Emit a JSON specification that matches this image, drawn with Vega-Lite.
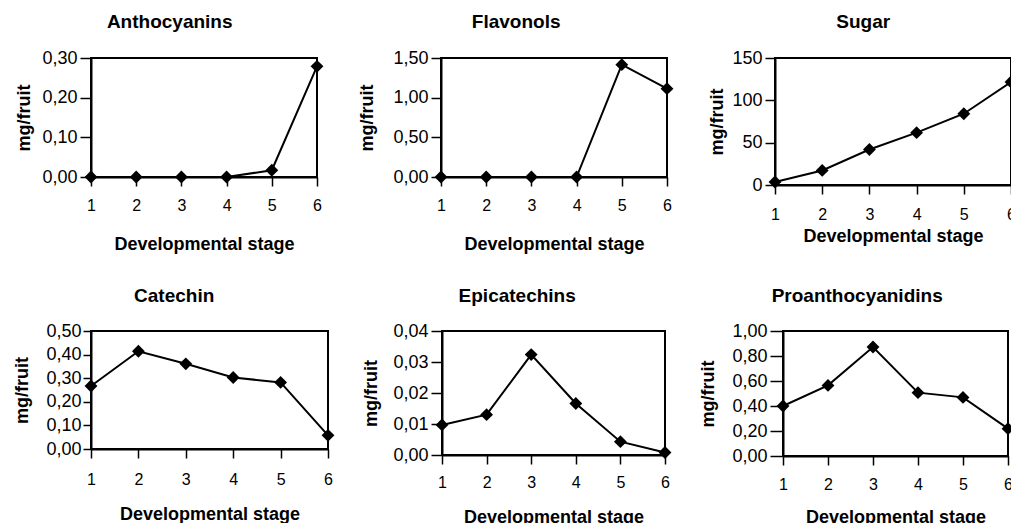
{
  "$schema": "https://vega.github.io/schema/vega-lite/v6.json",
  "padding": {"left": 12, "top": 12, "right": 0, "bottom": 0},
  "background": "white",
  "datasets": {
    "anthocyanins": [
      {"stage": 1, "value": 0}, {"stage": 2, "value": 0}, {"stage": 3, "value": 0},
      {"stage": 4, "value": 0}, {"stage": 5, "value": 0.017}, {"stage": 6, "value": 0.279}
    ],
    "flavonols": [
      {"stage": 1, "value": 0}, {"stage": 2, "value": 0}, {"stage": 3, "value": 0},
      {"stage": 4, "value": 0}, {"stage": 5, "value": 1.416}, {"stage": 6, "value": 1.113}
    ],
    "sugar": [
      {"stage": 1, "value": 3.5}, {"stage": 2, "value": 17.2}, {"stage": 3, "value": 41.9},
      {"stage": 4, "value": 61.8}, {"stage": 5, "value": 84.2}, {"stage": 6, "value": 121.7}
    ],
    "catechin": [
      {"stage": 1, "value": 0.267}, {"stage": 2, "value": 0.414}, {"stage": 3, "value": 0.361},
      {"stage": 4, "value": 0.303}, {"stage": 5, "value": 0.282}, {"stage": 6, "value": 0.058}
    ],
    "epicatechins": [
      {"stage": 1, "value": 0.0097}, {"stage": 2, "value": 0.013}, {"stage": 3, "value": 0.0324},
      {"stage": 4, "value": 0.0166}, {"stage": 5, "value": 0.0043}, {"stage": 6, "value": 0.0008}
    ],
    "proanthocyanidins": [
      {"stage": 1, "value": 0.40}, {"stage": 2, "value": 0.565}, {"stage": 3, "value": 0.872},
      {"stage": 4, "value": 0.507}, {"stage": 5, "value": 0.469}, {"stage": 6, "value": 0.219}
    ]
  },
  "vconcat": [
    {
      "spacing": 32,
      "hconcat": [
        {
          "title": {"text": "Anthocyanins", "offset": 17},
          "width": 226, "height": 119,
          "data": {"name": "anthocyanins"},
          "layer": [
            {"mark": {"type": "line", "color": "black", "strokeWidth": 2}},
            {"mark": {"type": "point", "shape": "diamond", "filled": true, "color": "black", "size": 165, "opacity": 1}}
          ],
          "encoding": {
            "x": {"field": "stage", "type": "quantitative", "scale": {"domain": [1, 6], "nice": false, "zero": false},
                  "axis": {"title": "Developmental stage", "values": [1, 2, 3, 4, 5, 6], "format": "d", "labelPadding": 11.5, "titlePadding": 22.2}},
            "y": {"field": "value", "type": "quantitative", "scale": {"domain": [0, 0.3], "nice": false},
                  "axis": {"title": "mg/fruit", "values": [0, 0.1, 0.2, 0.3], "labelExpr": "replace(format(datum.value, '.2f'), '.', ',')", "tickSize": 11, "labelPadding": 3, "titlePadding": 8}}
          }
        },
        {
          "title": {"text": "Flavonols", "offset": 17},
          "width": 226, "height": 119,
          "data": {"name": "flavonols"},
          "layer": [
            {"mark": {"type": "line", "color": "black", "strokeWidth": 2}},
            {"mark": {"type": "point", "shape": "diamond", "filled": true, "color": "black", "size": 165, "opacity": 1}}
          ],
          "encoding": {
            "x": {"field": "stage", "type": "quantitative", "scale": {"domain": [1, 6], "nice": false, "zero": false},
                  "axis": {"title": "Developmental stage", "values": [1, 2, 3, 4, 5, 6], "format": "d", "labelPadding": 11.5, "titlePadding": 22.2}},
            "y": {"field": "value", "type": "quantitative", "scale": {"domain": [0, 1.5], "nice": false},
                  "axis": {"title": "mg/fruit", "values": [0, 0.5, 1, 1.5], "labelExpr": "replace(format(datum.value, '.2f'), '.', ',')", "tickSize": 10, "labelPadding": 3, "titlePadding": 16}}
          }
        },
        {
          "title": {"text": "Sugar", "offset": 17},
          "width": 236, "height": 127,
          "data": {"name": "sugar"},
          "layer": [
            {"mark": {"type": "line", "color": "black", "strokeWidth": 2}},
            {"mark": {"type": "point", "shape": "diamond", "filled": true, "color": "black", "size": 165, "opacity": 1}}
          ],
          "encoding": {
            "x": {"field": "stage", "type": "quantitative", "scale": {"domain": [1, 6], "nice": false, "zero": false},
                  "axis": {"title": "Developmental stage", "values": [1, 2, 3, 4, 5, 6], "format": "d", "labelPadding": 12.5, "titlePadding": 4.9}},
            "y": {"field": "value", "type": "quantitative", "scale": {"domain": [0, 150], "nice": false},
                  "axis": {"title": "mg/fruit", "values": [0, 50, 100, 150], "format": "d", "tickSize": 10, "labelPadding": 3, "titlePadding": 5}}
          }
        }
      ]
    },
    {
      "spacing": 25,
      "hconcat": [
        {
          "title": {"text": "Catechin", "offset": 16},
          "width": 237, "height": 118,
          "data": {"name": "catechin"},
          "layer": [
            {"mark": {"type": "line", "color": "black", "strokeWidth": 2}},
            {"mark": {"type": "point", "shape": "diamond", "filled": true, "color": "black", "size": 165, "opacity": 1}}
          ],
          "encoding": {
            "x": {"field": "stage", "type": "quantitative", "scale": {"domain": [1, 6], "nice": false, "zero": false},
                  "axis": {"title": "Developmental stage", "values": [1, 2, 3, 4, 5, 6], "format": "d", "labelPadding": 13, "titlePadding": 18.3}},
            "y": {"field": "value", "type": "quantitative", "scale": {"domain": [0, 0.5], "nice": false},
                  "axis": {"title": "mg/fruit", "values": [0, 0.1, 0.2, 0.3, 0.4, 0.5], "labelExpr": "replace(format(datum.value, '.2f'), '.', ',')", "tickSize": 8, "labelPadding": 2, "titlePadding": 14}}
          }
        },
        {
          "title": {"text": "Epicatechins", "offset": 16},
          "width": 223, "height": 124,
          "data": {"name": "epicatechins"},
          "layer": [
            {"mark": {"type": "line", "color": "black", "strokeWidth": 2}},
            {"mark": {"type": "point", "shape": "diamond", "filled": true, "color": "black", "size": 165, "opacity": 1}}
          ],
          "encoding": {
            "x": {"field": "stage", "type": "quantitative", "scale": {"domain": [1, 6], "nice": false, "zero": false},
                  "axis": {"title": "Developmental stage", "values": [1, 2, 3, 4, 5, 6], "format": "d", "labelPadding": 10.8, "titlePadding": 17.2}},
            "y": {"field": "value", "type": "quantitative", "scale": {"domain": [0, 0.04], "nice": false},
                  "axis": {"title": "mg/fruit", "values": [0, 0.01, 0.02, 0.03, 0.04], "labelExpr": "replace(format(datum.value, '.2f'), '.', ',')", "tickSize": 11, "labelPadding": 3, "titlePadding": 12}}
          }
        },
        {
          "title": {"text": "Proanthocyanidins", "offset": 16},
          "width": 225, "height": 125,
          "data": {"name": "proanthocyanidins"},
          "layer": [
            {"mark": {"type": "line", "color": "black", "strokeWidth": 2}},
            {"mark": {"type": "point", "shape": "diamond", "filled": true, "color": "black", "size": 165, "opacity": 1}}
          ],
          "encoding": {
            "x": {"field": "stage", "type": "quantitative", "scale": {"domain": [1, 6], "nice": false, "zero": false},
                  "axis": {"title": "Developmental stage", "values": [1, 2, 3, 4, 5, 6], "format": "d", "labelPadding": 11.1, "titlePadding": 15.9}},
            "y": {"field": "value", "type": "quantitative", "scale": {"domain": [0, 1], "nice": false},
                  "axis": {"title": "mg/fruit", "values": [0, 0.2, 0.4, 0.6, 0.8, 1], "labelExpr": "replace(format(datum.value, '.2f'), '.', ',')", "tickSize": 13, "labelPadding": 3, "titlePadding": 14}}
          }
        }
      ]
    }
  ],
  "spacing": 31,
  "config": {
    "font": "Liberation Sans",
    "view": {"stroke": "black", "strokeWidth": 2},
    "axis": {
      "grid": false,
      "domainColor": "black", "domainWidth": 2,
      "tickColor": "black", "tickWidth": 1.5,
      "labelColor": "black", "labelFont": "Liberation Sans", "labelFontSize": 18,
      "titleColor": "black", "titleFont": "Liberation Sans", "titleFontSize": 18, "titleFontWeight": "bold",
      "labelOverlap": false
    },
    "axisX": {"labelFlush": false, "labelFontSize": 16, "tickSize": 9},
    "title": {"font": "Liberation Sans", "fontSize": 19, "fontWeight": "bold", "color": "black", "frame": "bounds"}
  }
}
